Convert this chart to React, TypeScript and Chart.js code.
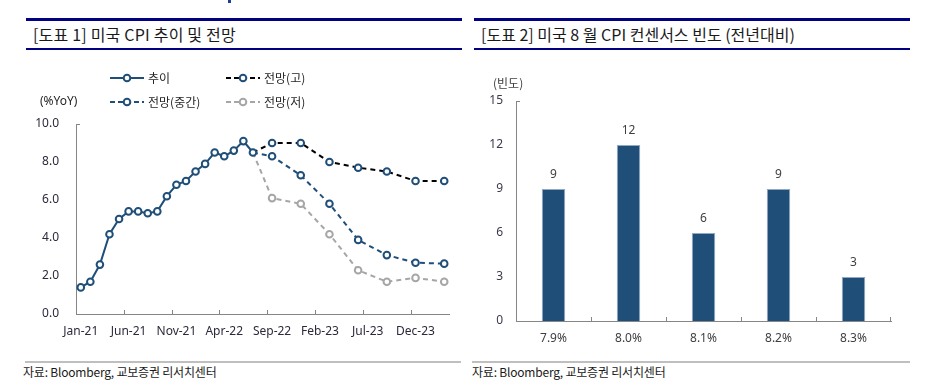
import React, { useEffect, useRef } from 'react';
import { Chart, registerables } from 'chart.js';

Chart.register(...registerables);

// ---------- Data ----------
const months = [
  'Jan-21', 'Feb-21', 'Mar-21', 'Apr-21', 'May-21', 'Jun-21', 'Jul-21', 'Aug-21', 'Sep-21', 'Oct-21', 'Nov-21', 'Dec-21',
  'Jan-22', 'Feb-22', 'Mar-22', 'Apr-22', 'May-22', 'Jun-22', 'Jul-22', 'Aug-22', 'Sep-22', 'Oct-22', 'Nov-22', 'Dec-22',
  'Jan-23', 'Feb-23', 'Mar-23', 'Apr-23', 'May-23', 'Jun-23', 'Jul-23', 'Aug-23', 'Sep-23', 'Oct-23', 'Nov-23', 'Dec-23',
  'Jan-24', 'Feb-24', 'Mar-24',
];
const actualCPI = [1.4, 1.7, 2.6, 4.2, 5.0, 5.4, 5.4, 5.3, 5.4, 6.2, 6.8, 7.0, 7.5, 7.9, 8.5, 8.3, 8.6, 9.1, 8.5];
const forecastMonths = ['Jul-22', 'Sep-22', 'Dec-22', 'Mar-23', 'Jun-23', 'Sep-23', 'Dec-23', 'Mar-24'];
const forecastHigh = [8.5, 9.0, 9.0, 8.0, 7.7, 7.5, 7.0, 7.0];
const forecastMid = [8.5, 8.3, 7.3, 5.8, 3.9, 3.1, 2.7, 2.65];
const forecastLow = [8.5, 6.1, 5.8, 4.2, 2.3, 1.7, 1.9, 1.7];

const consensusLabels = ['7.9%', '8.0%', '8.1%', '8.2%', '8.3%'];
const consensusCounts = [9, 12, 6, 9, 3];

// ---------- Styles ----------
const NAVY = '#1F4E79';
const GRAY = '#A6A6A6';
const BLACK = '#000000';
const AXIS = '#868686';
const FONT = '"Noto Sans", "Noto Sans CJK KR", sans-serif';
const KFONT = '"Noto Sans CJK KR", "Noto Sans", sans-serif';

const toSparse = (vals: number[]) =>
  months.map((m) => {
    const i = forecastMonths.indexOf(m);
    return i >= 0 ? vals[i] : null;
  });

const forecastRadius = (ctx: any) => (months[ctx.dataIndex] === forecastMonths[0] ? 0 : 3.3);

function LeftChart() {
  const ref = useRef<HTMLCanvasElement>(null);
  useEffect(() => {
    const decor = {
      id: 'leftDecor',
      afterDraw(chart: any) {
        const { ctx, chartArea, scales } = chart;
        const xs = scales.x;
        ctx.save();
        ctx.strokeStyle = AXIS;
        ctx.lineWidth = 1;
        // inward x ticks every 5 months
        for (let i = 5; i < months.length; i += 5) {
          const x = Math.round((xs.getPixelForValue(i - 1) + xs.getPixelForValue(i)) / 2) + 0.5;
          ctx.beginPath();
          ctx.moveTo(x, chartArea.bottom);
          ctx.lineTo(x, chartArea.bottom - 4);
          ctx.stroke();
        }
        // top cap of y axis
        ctx.beginPath();
        ctx.moveTo(chartArea.left, Math.round(chartArea.top) + 0.5);
        ctx.lineTo(chartArea.left + 4, Math.round(chartArea.top) + 0.5);
        ctx.stroke();

        // legend
        const item = (x0: number, y: number, color: string, marker: string, dash: number[], text: string) => {
          ctx.strokeStyle = color;
          ctx.lineWidth = 2;
          ctx.setLineDash(dash);
          ctx.beginPath();
          ctx.moveTo(x0, y);
          ctx.lineTo(x0 + 34, y);
          ctx.stroke();
          ctx.setLineDash([]);
          ctx.strokeStyle = marker;
          ctx.beginPath();
          ctx.arc(x0 + 17, y, 3.3, 0, Math.PI * 2);
          ctx.fillStyle = '#fff';
          ctx.fill();
          ctx.stroke();
          ctx.fillStyle = '#262626';
          ctx.font = `12px ${KFONT}`;
          ctx.textAlign = 'left';
          ctx.textBaseline = 'middle';
          ctx.fillText(text, x0 + 38, y);
        };
        item(110, 23, NAVY, NAVY, [], '추이');
        item(226, 23, BLACK, NAVY, [5, 3], '전망(고)');
        item(110, 47, NAVY, NAVY, [5, 3], '전망(중간)');
        item(226, 47, GRAY, GRAY, [5, 3], '전망(저)');
        ctx.fillStyle = '#262626';
        ctx.font = `12px ${FONT}`;
        ctx.textAlign = 'left';
        ctx.textBaseline = 'middle';
        ctx.fillText('(%YoY)', 40, 47);
        ctx.restore();
      },
    };

    const common = {
      spanGaps: true,
      borderWidth: 2,
      pointBorderWidth: 2,
      pointBackgroundColor: '#fff',
      tension: 0,
    };

    const chart = new Chart(ref.current!, {
      type: 'line',
      data: {
        labels: months,
        datasets: [
          {
            ...common,
            label: '추이',
            data: months.map((_, i) => (i < actualCPI.length ? actualCPI[i] : null)),
            borderColor: NAVY,
            pointBorderColor: NAVY,
            pointRadius: 3.3,
          },
          {
            ...common,
            label: '전망(고)',
            data: toSparse(forecastHigh),
            borderColor: BLACK,
            pointBorderColor: NAVY,
            borderDash: [5, 4],
            pointRadius: forecastRadius,
          },
          {
            ...common,
            label: '전망(중간)',
            data: toSparse(forecastMid),
            borderColor: NAVY,
            pointBorderColor: NAVY,
            borderDash: [5, 4],
            pointRadius: forecastRadius,
          },
          {
            ...common,
            label: '전망(저)',
            data: toSparse(forecastLow),
            borderColor: GRAY,
            pointBorderColor: GRAY,
            borderDash: [5, 4],
            pointRadius: forecastRadius,
          },
        ] as any,
      },
      options: {
        animation: false,
        responsive: false,
        events: [],
        layout: { padding: { left: 0, right: 11, top: 69, bottom: 0 } },
        plugins: { legend: { display: false }, tooltip: { enabled: false } },
        scales: {
          x: {
            type: 'category',
            offset: true,
            grid: { display: false, drawTicks: false },
            border: { display: true, color: AXIS, width: 1 },
            ticks: {
              autoSkip: false,
              maxRotation: 0,
              padding: 10,
              color: '#2a2a3a',
              font: { family: FONT, size: 12 },
              callback: (_v: any, i: number) => (i % 5 === 0 ? months[i] : ''),
            },
            afterFit: (s: any) => {
              s.height = 41;
            },
          },
          y: {
            min: 0,
            max: 10,
            grid: { display: false, drawTicks: false },
            border: { display: true, color: AXIS, width: 1 },
            ticks: {
              stepSize: 2,
              padding: 17,
              color: '#2a2a3a',
              font: { family: FONT, size: 12 },
              callback: (v: any) => Number(v).toFixed(1),
            },
            afterFit: (s: any) => {
              s.width = 76;
            },
          },
        },
      } as any,
      plugins: [decor],
    });
    return () => chart.destroy();
  }, []);
  return <canvas ref={ref} width={460} height={300} style={{ position: 'absolute', left: 0, top: 55 }} />;
}

function RightChart() {
  const ref = useRef<HTMLCanvasElement>(null);
  useEffect(() => {
    const decor = {
      id: 'rightDecor',
      afterDatasetsDraw(chart: any) {
        const { ctx, chartArea, scales } = chart;
        const xs = scales.x;
        ctx.save();
        // value labels
        const meta = chart.getDatasetMeta(0);
        ctx.fillStyle = '#404040';
        ctx.font = `12px ${FONT}`;
        ctx.textAlign = 'center';
        ctx.textBaseline = 'middle';
        meta.data.forEach((bar: any, i: number) => {
          ctx.fillText(String(consensusCounts[i]), bar.x, bar.y - 14);
        });
        // inward x ticks at category boundaries
        ctx.strokeStyle = AXIS;
        ctx.lineWidth = 1;
        for (let i = 1; i <= consensusLabels.length; i++) {
          const x =
            i < consensusLabels.length
              ? Math.round((xs.getPixelForValue(i - 1) + xs.getPixelForValue(i)) / 2) + 0.5
              : Math.round(chartArea.right) - 0.5;
          ctx.beginPath();
          ctx.moveTo(x, chartArea.bottom + 1);
          ctx.lineTo(x, chartArea.bottom - 4);
          ctx.stroke();
        }
        // top cap of y axis
        ctx.beginPath();
        ctx.moveTo(chartArea.left, Math.round(chartArea.top) + 0.5);
        ctx.lineTo(chartArea.left + 4, Math.round(chartArea.top) + 0.5);
        ctx.stroke();
        // unit label
        ctx.fillStyle = '#404040';
        ctx.font = `12px ${KFONT}`;
        ctx.textAlign = 'left';
        ctx.fillText('(빈도)', 33, 28);
        ctx.restore();
      },
    };

    const chart = new Chart(ref.current!, {
      type: 'bar',
      data: {
        labels: consensusLabels,
        datasets: [
          {
            label: '빈도',
            data: consensusCounts,
            backgroundColor: NAVY,
            borderColor: '#93A9BF',
            borderWidth: 1,
            barPercentage: 0.313,
            categoryPercentage: 1,
          },
        ],
      },
      options: {
        animation: false,
        responsive: false,
        events: [],
        layout: { padding: { left: 0, right: 34, top: 46, bottom: 0 } },
        plugins: { legend: { display: false }, tooltip: { enabled: false } },
        scales: {
          x: {
            grid: { display: false, drawTicks: false },
            border: { display: true, color: AXIS, width: 1 },
            ticks: {
              padding: 10,
              color: '#404040',
              font: { family: FONT, size: 12 },
            },
            afterFit: (s: any) => {
              s.height = 34;
            },
          },
          y: {
            min: 0,
            max: 15,
            grid: { display: false, drawTicks: false },
            border: { display: true, color: AXIS, width: 1 },
            ticks: {
              stepSize: 3,
              padding: 13,
              color: '#3a3a4a',
              font: { family: FONT, size: 12 },
            },
            afterFit: (s: any) => {
              s.width = 56;
            },
          },
        },
      } as any,
      plugins: [decor],
    });
    return () => chart.destroy();
  }, []);
  return <canvas ref={ref} width={465} height={300} style={{ position: 'absolute', left: 460, top: 55 }} />;
}

const bar = (left: number, top: number, width: number, height: number, color: string) => (
  <div style={{ position: 'absolute', left, top, width, height, background: color }} />
);

const textStyle = (left: number, top: number, size: number): React.CSSProperties => ({
  position: 'absolute',
  left,
  top,
  fontFamily: KFONT,
  fontSize: size,
  lineHeight: `${size + 4}px`,
  color: '#1a1a1a',
  whiteSpace: 'nowrap',
});

export default function App() {
  return (
    <div
      style={{
        position: 'absolute',
        left: 0,
        top: 0,
        width: 925,
        height: 386,
        background: '#fff',
        overflow: 'hidden',
      }}
    >
      {bar(228, 0, 3, 3, '#1F3F8F')}
      {/* left header */}
      {bar(26, 18, 436, 3, '#000080')}
      {bar(26, 48, 436, 2, '#000080')}
      <div style={{ ...textStyle(33, 24, 16), letterSpacing: '0.2px' }}>[도표 1] 미국 CPI 추이 및 전망</div>
      {/* right header */}
      {bar(474, 18, 436, 3, '#000080')}
      {bar(474, 48, 436, 2, '#000080')}
      <div style={textStyle(481, 24, 16)}>[도표 2] 미국 8 월 CPI 컨센서스 빈도 (전년대비)</div>

      <LeftChart />
      <RightChart />

      {/* sources */}
      {bar(25, 361, 436, 2, '#BFBFBF')}
      {bar(472, 361, 438, 2, '#BFBFBF')}
      <div style={{ ...textStyle(23, 364, 12), letterSpacing: '-0.2px' }}>자료: Bloomberg, 교보증권 리서치센터</div>
      <div style={{ ...textStyle(472, 364, 12), letterSpacing: '-0.2px' }}>자료: Bloomberg, 교보증권 리서치센터</div>
    </div>
  );
}
